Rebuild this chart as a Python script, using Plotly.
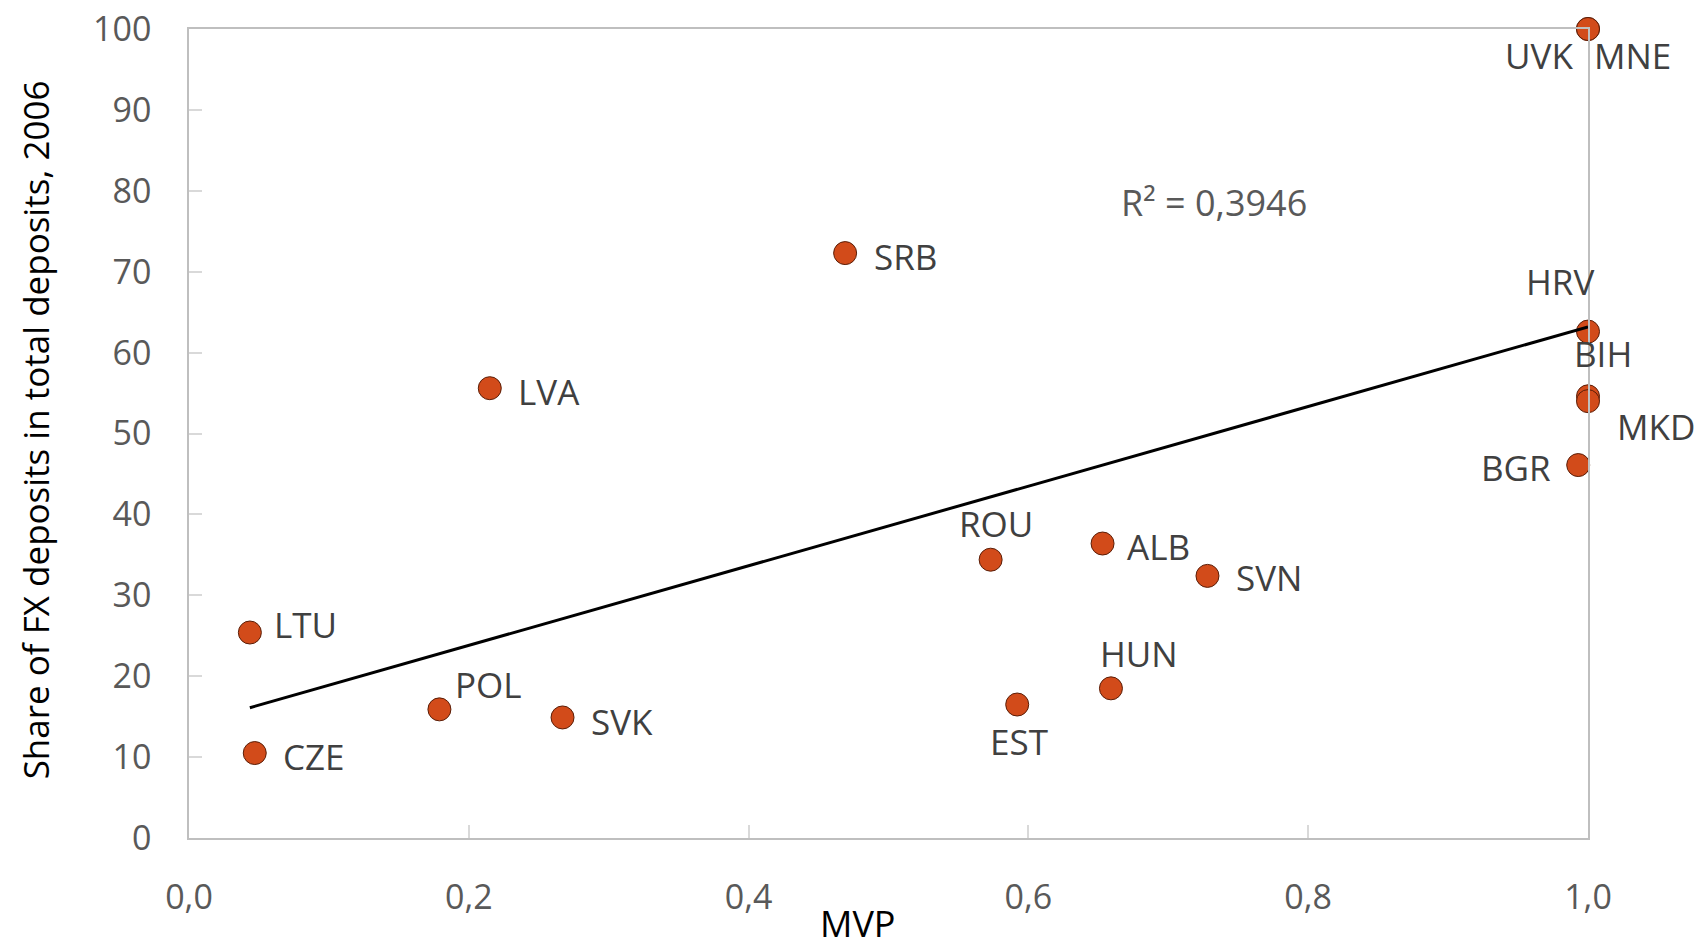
import numpy as np
import plotly.graph_objects as go

# ---- data ----
countries = ["UVK", "MNE", "SRB", "LVA", "HRV", "BIH", "MKD", "BGR", "ROU", "ALB",
             "SVN", "LTU", "POL", "SVK", "CZE", "EST", "HUN"]
mvp = [1.0, 1.0, 0.469, 0.215, 1.0, 1.0, 1.0, 0.993, 0.573, 0.653,
       0.728, 0.0435, 0.179, 0.267, 0.047, 0.592, 0.659]
fx_share = [100.0, 100.0, 72.3, 55.6, 62.6, 54.6, 54.0, 46.1, 34.4, 36.4,
            32.4, 25.4, 15.9, 14.9, 10.5, 16.5, 18.5]
r_squared_text = "R² = 0,3946"
x_ticks = [0.0, 0.2, 0.4, 0.6, 0.8, 1.0]
y_ticks = [0, 10, 20, 30, 40, 50, 60, 70, 80, 90, 100]

# label offsets in pixels (dx, dy screen-down) and anchors
label_style = {
    "UVK": (-49, 26, "center"), "MNE": (44, 26, "center"),
    "SRB": (27, 3, "left"), "LVA": (26, 3, "left"),
    "HRV": (-28, -50, "center"), "BIH": (15, -43, "center"),
    "MKD": (68, 25, "center"), "BGR": (-25, 2, "right"),
    "ROU": (5, -36, "center"), "ALB": (22, 3, "left"),
    "SVN": (27, 2, "left"), "LTU": (22, -8, "left"),
    "POL": (14, -25, "left"), "SVK": (26, 4, "left"),
    "CZE": (26, 3, "left"), "EST": (2, 37, "center"),
    "HUN": (28, -35, "center"),
}

FONT = "Open Sans"
TICK_COLOR = "#595959"
LABEL_COLOR = "#404040"

fig = go.Figure()
fig.add_trace(go.Scatter(
    x=mvp, y=fx_share, mode="markers", cliponaxis=False,
    marker=dict(size=23, color="#D24B1A", line=dict(color="#5A1E08", width=1)),
    showlegend=False, hoverinfo="text", text=countries,
))

# linear trend line fitted to the data, drawn over the data range
xa = np.array(mvp)
ya = np.array(fx_share)
slope, intercept = np.polyfit(xa, ya, 1)
tx = np.array([xa.min(), xa.max()])
fig.add_trace(go.Scatter(
    x=tx, y=slope * tx + intercept, mode="lines", cliponaxis=False,
    line=dict(color="black", width=3), showlegend=False, hoverinfo="skip",
))

annotations = []
for c, xv, yv in zip(countries, mvp, fx_share):
    dx, dy, anchor = label_style[c]
    annotations.append(dict(
        x=xv, y=yv, xref="x", yref="y", text=c, showarrow=False,
        xanchor=anchor, yanchor="middle", xshift=dx, yshift=-dy,
        font=dict(family=FONT, size=35, color=LABEL_COLOR),
    ))

annotations.append(dict(
    x=0.733, y=0.786, xref="paper", yref="paper", text=r_squared_text,
    showarrow=False, xanchor="center", yanchor="middle",
    font=dict(family=FONT, size=36, color=TICK_COLOR),
))
annotations.append(dict(
    x=0.478, y=-0.106, xref="paper", yref="paper",
    text="MVP", showarrow=False, xanchor="center", yanchor="middle",
    font=dict(family=FONT, size=36, color="black"),
))
annotations.append(dict(
    x=-0.110, y=0.504, xref="paper", yref="paper", textangle=-90,
    text="Share of FX deposits in total deposits, 2006", showarrow=False,
    xanchor="center", yanchor="middle",
    font=dict(family=FONT, size=35, color="black"),
))

fig.update_layout(
    width=1704, height=940,
    margin=dict(l=181, r=124, t=21, b=110),
    paper_bgcolor="white", plot_bgcolor="white",
    separators=", ",
    font=dict(family=FONT),
    annotations=annotations,
    xaxis=dict(
        range=[0, 1.0], tickvals=x_ticks, tickformat=".1f",
        showgrid=False, zeroline=False, automargin=False,
        showline=True, linecolor="#BFBFBF", linewidth=1.5, mirror=True,
        ticks="inside", ticklen=13, tickcolor="#D9D9D9", tickwidth=1.5,
        ticklabelstandoff=28, ticklabeloverflow="allow",
        tickfont=dict(family=FONT, size=34, color=TICK_COLOR),
    ),
    yaxis=dict(
        range=[0, 100], tickvals=y_ticks,
        showgrid=False, zeroline=False, automargin=False,
        showline=True, linecolor="#BFBFBF", linewidth=1.5, mirror=True,
        ticks="inside", ticklen=13, tickcolor="#D9D9D9", tickwidth=1.5,
        ticklabelstandoff=29, ticklabeloverflow="allow",
        tickfont=dict(family=FONT, size=34, color=TICK_COLOR),
    ),
)

fig.write_html("out.html")
